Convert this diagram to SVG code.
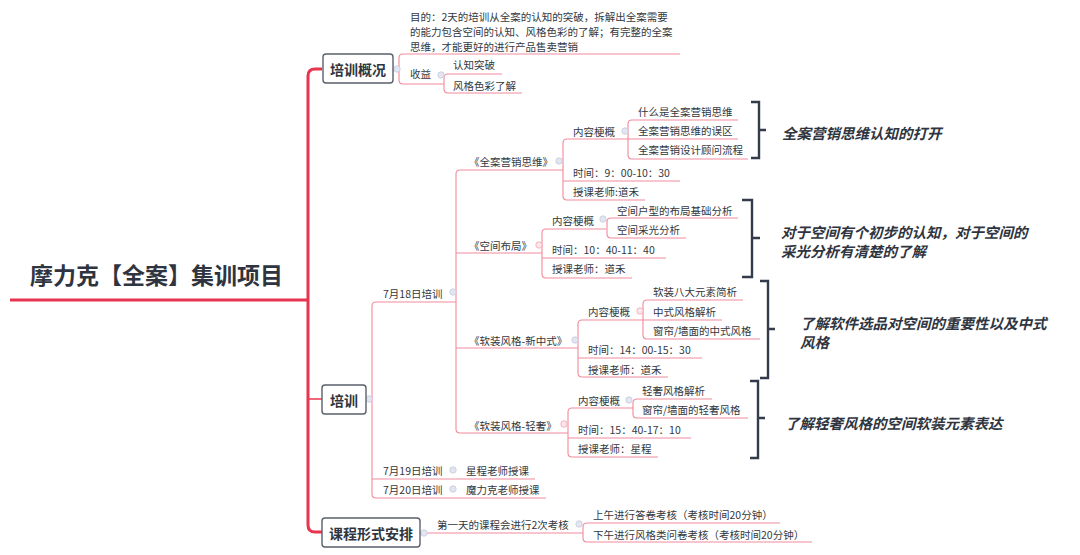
<svg xmlns="http://www.w3.org/2000/svg" width="1080" height="555" viewBox="0 0 1080 555">
<style>
text{font-family:"Noto Sans CJK SC","Noto Sans",sans-serif;fill:#333840;dominant-baseline:central}
.t{font-size:10.5px}
.b{font-size:14px;font-weight:bold;fill:#2f3540;text-anchor:middle}
.root{font-size:23px;font-weight:bold;fill:#2f3540}
.lbl{font-size:14.5px;font-weight:bold;font-style:italic;fill:#2f3540}
.ln{fill:none;stroke:#f2899b;stroke-width:1.1}
.trunk{fill:none;stroke:#e8354f;stroke-width:3}
.box{fill:#fff;stroke:#5a606b;stroke-width:1.4}
.br{fill:none;stroke:#343b4a;stroke-width:2.4}
.c{fill:#e3e6f0;stroke:#c4cadc;stroke-width:0.8}
.cp{fill:#fbe6ea;stroke:#f2a3b0;stroke-width:0.8}
</style>
<rect width="1080" height="555" fill="#fff"/>
<g id="connectors">
<path class="trunk" d="M10 300 H308"/>
<path class="trunk" d="M322 69 H315 Q308 69 308 76 V525 Q308 532 315 532 H322"/>
<path class="trunk" d="M308 399 H322" style="stroke-width:1.5"/>
<!-- 培训概况 children -->
<path class="ln" d="M393 69 H399"/>
<path class="ln" d="M680 54 H403 Q399 54 399 58 V80 Q399 84 403 84 H444"/>
<path class="ln" d="M502 74 H448 Q444 74 444 78 V89 Q444 93 448 93 H522"/>
<!-- 培训 children -->
<path class="ln" d="M366 399 H372"/>
<path class="ln" d="M456 302 H376 Q372 302 372 306 V494 Q372 498 376 498 H546"/>
<path class="ln" d="M372 479 H535"/>
<!-- 7月18日 children -->
<path class="ln" d="M563 170 H460 Q456 170 456 174 V429 Q456 433 460 433 H568"/>
<path class="ln" d="M456 253 H542 M456 348 H578"/>
<!-- 全案营销思维 -->
<path class="ln" d="M628 139 H567 Q563 139 563 143 V196 Q563 200 567 200 H645"/>
<path class="ln" d="M563 181 H680"/>
<path class="ln" d="M738 120 H632 Q628 120 628 124 V155 Q628 159 632 159 H748"/>
<path class="ln" d="M628 139 H738"/>
<!-- 空间布局 -->
<path class="ln" d="M606 229 H546 Q542 229 542 233 V274 Q542 278 546 278 H632"/>
<path class="ln" d="M542 258 H666"/>
<path class="ln" d="M738 218 H611 Q607 218 607 222 V234 Q607 238 611 238 H686"/>
<!-- 新中式 -->
<path class="ln" d="M643 320 H582 Q578 320 578 324 V373 Q578 377 582 377 H668"/>
<path class="ln" d="M578 358 H702"/>
<path class="ln" d="M743 300 H647 Q643 300 643 304 V335 Q643 339 647 339 H760"/>
<path class="ln" d="M643 320 H722"/>
<!-- 轻奢 -->
<path class="ln" d="M633 408 H572 Q568 408 568 412 V453 Q568 457 572 457 H658"/>
<path class="ln" d="M568 438 H691"/>
<path class="ln" d="M712 399 H637 Q633 399 633 403 V414 Q633 418 637 418 H748"/>
<!-- 课程形式安排 -->
<path class="ln" d="M420 533 H583"/>
<path class="ln" d="M780 523 H587 Q583 523 583 527 V538 Q583 542 587 542 H812"/>
<!-- brackets -->
<path class="br" d="M751 102 H759 V158 H751 M759 130 H766"/>
<path class="br" d="M742 200 H752 V277 H742 M752 238 H760"/>
<path class="br" d="M760 281 H768 V378 H760 M768 329 H775"/>
<path class="br" d="M750 381 H758 V458 H750 M758 418 H765"/>
<!-- collapse dots -->
<circle class="c" cx="397" cy="69" r="3.2"/>
<circle class="c" cx="441" cy="75" r="3.2"/>
<circle class="c" cx="559" cy="161" r="3.2"/>
<circle class="c" cx="625" cy="131" r="3.2"/>
<circle class="cp" cx="539" cy="245" r="3.2"/>
<circle class="c" cx="603" cy="219" r="3.2"/>
<circle class="c" cx="575" cy="340" r="3.2"/>
<circle class="cp" cx="640" cy="311" r="3.2"/>
<circle class="cp" cx="564" cy="424" r="3.2"/>
<circle class="c" cx="629" cy="400" r="3.2"/>
<circle class="c" cx="453" cy="292" r="3.2"/>
<circle class="c" cx="453" cy="470" r="3.2"/>
<circle class="c" cx="453" cy="489" r="3.2"/>
<circle class="c" cx="369" cy="399" r="3.2"/>
<circle class="c" cx="424" cy="533" r="3.2"/>
<circle class="c" cx="579" cy="524" r="3.2"/>
</g>
<g id="root"><text class="root" x="30" y="274">摩力克【全案】集训项目</text></g>
<g id="n-gaikuang"><rect class="box" x="323" y="54" width="70" height="29" rx="3"/><text class="b" x="358" y="69">培训概况</text></g>
<g id="n-peixun"><rect class="box" x="322" y="385" width="44" height="29" rx="3"/><text class="b" x="344" y="400">培训</text></g>
<g id="n-anpai"><rect class="box" x="322" y="518" width="98" height="29" rx="3"/><text class="b" x="371" y="533">课程形式安排</text></g>
<g id="n-mudi"><text class="t" x="410" y="16.5">目的：2天的培训从全案的认知的突破，拆解出全案需要</text><text class="t" x="410" y="31.5">的能力包含空间的认知、风格色彩的了解；有完整的全案</text><text class="t" x="410" y="46">思维，才能更好的进行产品售卖营销</text></g>
<g id="n-shouyi"><text class="t" x="410" y="73">收益</text></g>
<g id="n-renzhi"><text class="t" x="453" y="64">认知突破</text></g>
<g id="n-fengge"><text class="t" x="453" y="85">风格色彩了解</text></g>
<g id="n-d18"><text class="t" x="383" y="293">7月18日培训</text></g>
<g id="n-d19"><text class="t" x="383" y="470">7月19日培训</text></g>
<g id="n-d19a"><text class="t" x="466" y="470">星程老师授课</text></g>
<g id="n-d20"><text class="t" x="383" y="489">7月20日培训</text></g>
<g id="n-d20a"><text class="t" x="466" y="489">魔力克老师授课</text></g>
<g id="n-c1"><text class="t" x="469" y="161">《全案营销思维》</text></g>
<g id="n-c1a"><text class="t" x="573" y="131">内容梗概</text></g>
<g id="n-c1a1"><text class="t" x="638" y="111">什么是全案营销思维</text></g>
<g id="n-c1a2"><text class="t" x="638" y="130">全案营销思维的误区</text></g>
<g id="n-c1a3"><text class="t" x="638" y="149">全案营销设计顾问流程</text></g>
<g id="n-c1b"><text class="t" x="573" y="172">时间：9：00-10：30</text></g>
<g id="n-c1c"><text class="t" x="573" y="191">授课老师:道禾</text></g>
<g id="n-c2"><text class="t" x="469" y="245">《空间布局》</text></g>
<g id="n-c2a"><text class="t" x="552" y="220">内容梗概</text></g>
<g id="n-c2a1"><text class="t" x="617" y="210">空间户型的布局基础分析</text></g>
<g id="n-c2a2"><text class="t" x="617" y="229">空间采光分析</text></g>
<g id="n-c2b"><text class="t" x="552" y="249">时间：10：40-11：40</text></g>
<g id="n-c2c"><text class="t" x="552" y="268">授课老师：道禾</text></g>
<g id="n-c3"><text class="t" x="469" y="340">《软装风格-新中式》</text></g>
<g id="n-c3a"><text class="t" x="588" y="311">内容梗概</text></g>
<g id="n-c3a1"><text class="t" x="653" y="291">软装八大元素简析</text></g>
<g id="n-c3a2"><text class="t" x="653" y="311">中式风格解析</text></g>
<g id="n-c3a3"><text class="t" x="653" y="330">窗帘/墙面的中式风格</text></g>
<g id="n-c3b"><text class="t" x="588" y="349">时间：14：00-15：30</text></g>
<g id="n-c3c"><text class="t" x="588" y="369">授课老师：道禾</text></g>
<g id="n-c4"><text class="t" x="469" y="425">《软装风格-轻奢》</text></g>
<g id="n-c4a"><text class="t" x="578" y="400">内容梗概</text></g>
<g id="n-c4a1"><text class="t" x="642" y="390">轻奢风格解析</text></g>
<g id="n-c4a2"><text class="t" x="642" y="409">窗帘/墙面的轻奢风格</text></g>
<g id="n-c4b"><text class="t" x="578" y="429">时间：15：40-17：10</text></g>
<g id="n-c4c"><text class="t" x="578" y="448">授课老师：星程</text></g>
<g id="n-kh"><text class="t" x="437" y="524">第一天的课程会进行2次考核</text></g>
<g id="n-kh1"><text class="t" x="593" y="514">上午进行答卷考核（考核时间20分钟）</text></g>
<g id="n-kh2"><text class="t" x="593" y="534">下午进行风格类问卷考核（考核时间20分钟）</text></g>
<g id="l1"><text class="lbl" x="782" y="132">全案营销思维认知的打开</text></g>
<g id="l2"><text class="lbl" x="781" y="231">对于空间有个初步的认知，对于空间的</text><text class="lbl" x="781" y="250">采光分析有清楚的了解</text></g>
<g id="l3"><text class="lbl" x="800" y="322">了解软件选品对空间的重要性以及中式</text><text class="lbl" x="800" y="341">风格</text></g>
<g id="l4"><text class="lbl" x="785" y="422">了解轻奢风格的空间软装元素表达</text></g>
</svg>
